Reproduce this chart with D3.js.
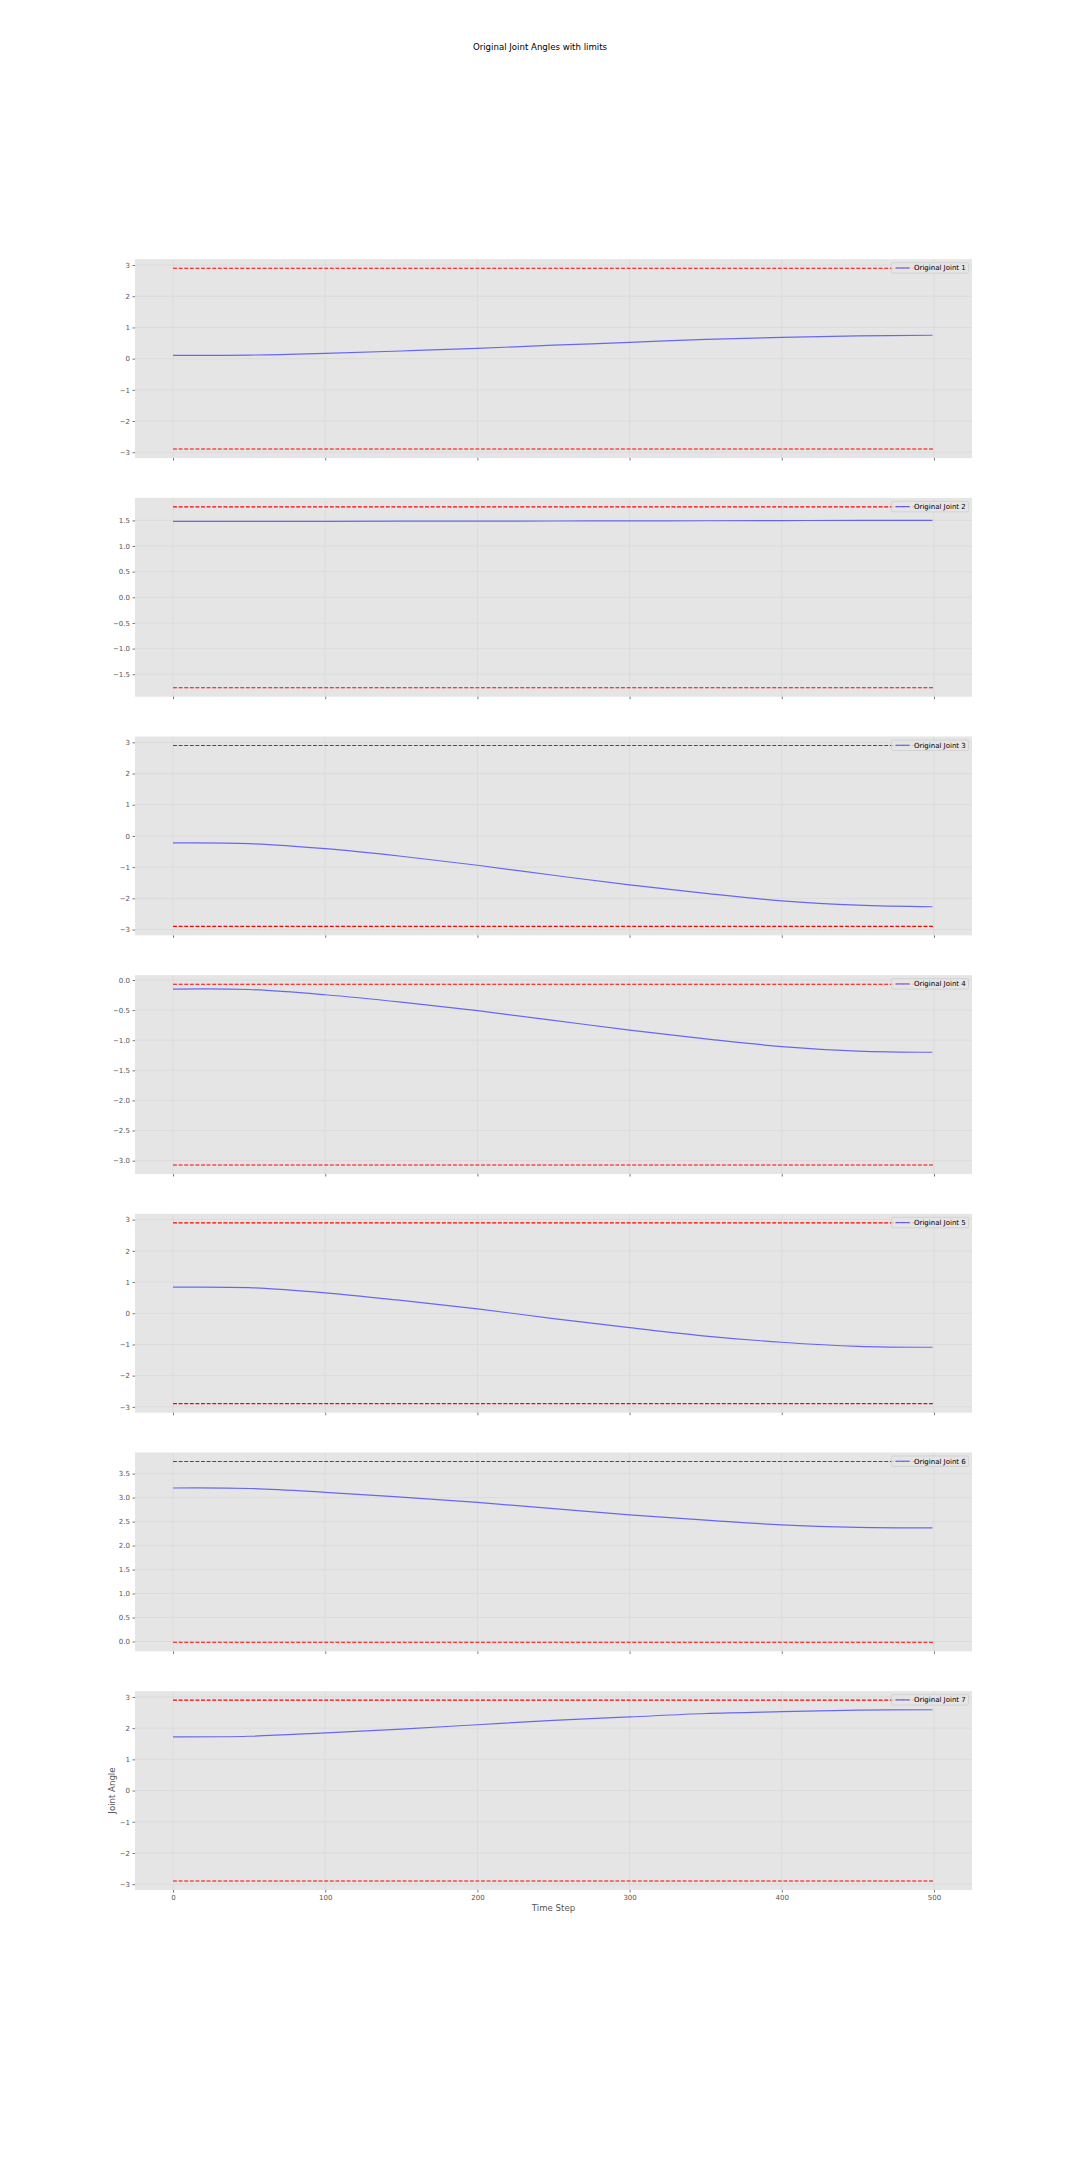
<!DOCTYPE html>
<html>
<head>
<meta charset="utf-8">
<script src="https://cdn.jsdelivr.net/npm/d3@7"></script>
<style>
  html, body { margin: 0; padding: 0; background: #ffffff; }
  svg { display: block; }
  text { font-family: "DejaVu Sans", sans-serif; }
</style>
</head>
<body>
<svg id="chart" width="1080" height="2160"></svg>
<script>
// ---------------- data ----------------
const title = "Original Joint Angles with limits";
const timeSteps = [0, 50, 100, 150, 200, 250, 300, 350, 400, 450, 499];
const joint1 = [0.107, 0.114, 0.17, 0.245, 0.33, 0.43, 0.52, 0.62, 0.68, 0.73, 0.75];
const joint2 = [1.480, 1.481, 1.482, 1.484, 1.486, 1.488, 1.490, 1.493, 1.496, 1.499, 1.500];
const joint3 = [-0.224, -0.245, -0.405, -0.65, -0.94, -1.26, -1.57, -1.84, -2.08, -2.22, -2.27];
const joint4 = [-0.15, -0.158, -0.245, -0.367, -0.51, -0.67, -0.833, -0.978, -1.105, -1.18, -1.20];
const joint5 = [0.836, 0.82, 0.654, 0.41, 0.14, -0.17, -0.46, -0.73, -0.93, -1.06, -1.09];
const joint6 = [3.20, 3.19, 3.11, 3.01, 2.90, 2.77, 2.64, 2.53, 2.43, 2.38, 2.37];
const joint7 = [1.72, 1.74, 1.85, 1.97, 2.11, 2.25, 2.36, 2.47, 2.53, 2.58, 2.59];
const joints = [joint1, joint2, joint3, joint4, joint5, joint6, joint7];
const jointLabels = ["Original Joint 1", "Original Joint 2", "Original Joint 3", "Original Joint 4",
                     "Original Joint 5", "Original Joint 6", "Original Joint 7"];
const lowerLimits = [-2.8973, -1.7628, -2.8973, -3.0718, -2.8973, -0.0175, -2.8973];
const upperLimits = [2.8973, 1.7628, 2.8973, -0.0698, 2.8973, 3.7525, 2.8973];
const limitRange = [0, 500];
const xTicks = [0, 100, 200, 300, 400, 500];
const yTicksInt = [-3, -2, -1, 0, 1, 2, 3];
const yTicksJ2 = [-1.5, -1.0, -0.5, 0.0, 0.5, 1.0, 1.5];
const yTicksJ4 = [-3.0, -2.5, -2.0, -1.5, -1.0, -0.5, 0.0];
const yTicksJ6 = [0.0, 0.5, 1.0, 1.5, 2.0, 2.5, 3.0, 3.5];
const yTicksPerPanel = [yTicksInt, yTicksJ2, yTicksInt, yTicksJ4, yTicksInt, yTicksJ6, yTicksInt];
const yTickDecimals = [0, 1, 0, 1, 0, 1, 0];
const xLabel = "Time Step";
const yLabel = "Joint Angle";

// ---------------- layout ----------------
const W = 1080, H = 2160;
const left = 135, right = 972;
const top0 = 259.2, bottomAll = 1890;
const nP = 7, hspace = 0.2;
const ph = (bottomAll - top0) / (nP + (nP - 1) * hspace);
const gap = ph * hspace;

const svg = d3.select("#chart");
svg.append("rect").attr("width", W).attr("height", H).attr("fill", "#ffffff");

svg.append("text")
  .attr("x", W / 2).attr("y", 50)
  .attr("text-anchor", "middle")
  .attr("font-size", 8.6)
  .attr("fill", "#000")
  .text(title);

// x extents include limit lines
const xMin = Math.min(d3.min(timeSteps), limitRange[0]);
const xMax = Math.max(d3.max(timeSteps), limitRange[1]);
const xPad = (xMax - xMin) * 0.05;
const x = d3.scaleLinear().domain([xMin - xPad, xMax + xPad]).range([left, right]);

const tickColor = "#555555";
const tickFont = 7;

joints.forEach((vals, i) => {
  const pTop = top0 + i * (ph + gap);
  const pBot = pTop + ph;
  const lo = Math.min(d3.min(vals), lowerLimits[i]);
  const hi = Math.max(d3.max(vals), upperLimits[i]);
  const pad = (hi - lo) * 0.05;
  const y = d3.scaleLinear().domain([lo - pad, hi + pad]).range([pBot, pTop]);

  const g = svg.append("g");
  g.append("rect")
    .attr("x", left).attr("y", pTop)
    .attr("width", right - left).attr("height", ph)
    .attr("fill", "#e5e5e5");

  const clipId = "clip" + i;
  g.append("clipPath").attr("id", clipId)
    .append("rect").attr("x", left).attr("y", pTop).attr("width", right - left).attr("height", ph);

  // grid
  const grid = g.append("g").attr("clip-path", `url(#${clipId})`);
  grid.selectAll("line.gx").data(xTicks).enter().append("line")
    .attr("x1", d => x(d)).attr("x2", d => x(d))
    .attr("y1", pTop).attr("y2", pBot)
    .attr("stroke", "#d9d9d9").attr("stroke-width", 0.8);
  grid.selectAll("line.gy").data(yTicksPerPanel[i]).enter().append("line")
    .attr("x1", left).attr("x2", right)
    .attr("y1", d => y(d)).attr("y2", d => y(d))
    .attr("stroke", "#d9d9d9").attr("stroke-width", 0.8);

  // y axis
  const fmt = yTickDecimals[i] ? d3.format(".1f") : d3.format("d");
  const yAxis = d3.axisLeft(y).tickValues(yTicksPerPanel[i]).tickFormat(fmt)
    .tickSize(2.5).tickPadding(2.5);
  const ya = g.append("g").attr("transform", `translate(${left},0)`).call(yAxis);
  ya.select(".domain").remove();
  ya.selectAll("line").attr("stroke", tickColor).attr("stroke-width", 0.8);
  ya.selectAll("text").attr("fill", tickColor).attr("font-size", tickFont)
    .attr("font-family", "DejaVu Sans");

  // x axis
  const xAxis = d3.axisBottom(x).tickValues(xTicks).tickSize(2.5).tickPadding(2.5)
    .tickFormat(i === nP - 1 ? d3.format("d") : () => "");
  const xa = g.append("g").attr("transform", `translate(0,${pBot})`).call(xAxis);
  xa.select(".domain").remove();
  xa.selectAll("line").attr("stroke", tickColor).attr("stroke-width", 0.8);
  xa.selectAll("text").attr("fill", tickColor).attr("font-size", tickFont)
    .attr("font-family", "DejaVu Sans");

  const plot = g.append("g").attr("clip-path", `url(#${clipId})`);
  // joint trajectory
  const line = d3.line().x((d, k) => x(timeSteps[k])).y(d => y(d)).curve(d3.curveCatmullRom.alpha(0.5));
  plot.append("path").datum(vals)
    .attr("d", line)
    .attr("fill", "none")
    .attr("stroke", "#0000ff").attr("stroke-opacity", 0.55)
    .attr("stroke-width", 1.2);

  // limit lines
  [lowerLimits[i], upperLimits[i]].forEach(lim => {
    plot.append("line")
      .attr("x1", x(limitRange[0])).attr("x2", x(limitRange[1]))
      .attr("y1", y(lim)).attr("y2", y(lim))
      .attr("stroke", "#ff0000").attr("stroke-width", 1.1)
      .attr("stroke-dasharray", "3.9,1.7");
  });

  // legend
  const legW = 77, legH = 10.5;
  const lx = right - 3.5 - legW, ly = pTop + 3.5;
  const leg = g.append("g");
  leg.append("rect")
    .attr("x", lx).attr("y", ly).attr("width", legW).attr("height", legH)
    .attr("rx", 1.5)
    .attr("fill", "#e5e5e5").attr("fill-opacity", 0.8)
    .attr("stroke", "#cccccc").attr("stroke-width", 0.7);
  leg.append("line")
    .attr("x1", lx + 4).attr("x2", lx + 18)
    .attr("y1", ly + legH / 2).attr("y2", ly + legH / 2)
    .attr("stroke", "#0000ff").attr("stroke-opacity", 0.55).attr("stroke-width", 1.2);
  leg.append("text")
    .attr("x", lx + 22.5).attr("y", ly + legH / 2 + 2.5)
    .attr("font-size", 7).attr("fill", "#000")
    .text(jointLabels[i]);

  if (i === nP - 1) {
    g.append("text")
      .attr("x", (left + right) / 2).attr("y", pBot + 21)
      .attr("text-anchor", "middle")
      .attr("font-size", 8.6).attr("fill", tickColor)
      .text(xLabel);
    g.append("text")
      .attr("transform", `translate(${left - 20},${(pTop + pBot) / 2}) rotate(-90)`)
      .attr("text-anchor", "middle")
      .attr("font-size", 8.6).attr("fill", tickColor)
      .text(yLabel);
  }
});
</script>
</body>
</html>
